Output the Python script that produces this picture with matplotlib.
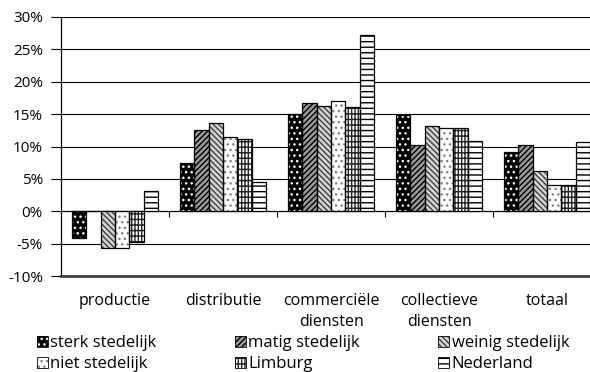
import matplotlib
matplotlib.use("Agg")
import matplotlib.pyplot as plt
import numpy as np
from matplotlib.patches import Patch
from matplotlib.ticker import FuncFormatter

plt.rcParams['font.family'] = ['Open Sans', 'DejaVu Sans']
plt.rcParams['hatch.linewidth'] = 1.0

# categories and series (percentages)
categories = ["productie", "distributie", "commerciële\ndiensten", "collectieve\ndiensten", "totaal"]
series_names = ["sterk stedelijk", "matig stedelijk", "weinig stedelijk",
                "niet stedelijk", "Limburg", "Nederland"]
sterk = [-4.1, 7.5, 15.0, 14.8, 9.2]
matig = [0.0, 12.6, 16.7, 10.2, 10.3]
weinig = [-5.7, 13.7, 16.2, 13.2, 6.2]
niet = [-5.7, 11.5, 17.0, 12.9, 4.0]
limburg = [-4.7, 11.1, 16.1, 12.8, 4.0]
nederland = [3.2, 4.5, 27.2, 10.9, 10.7]
values = [sterk, matig, weinig, niet, limburg, nederland]

# face colour, hatch colour, hatch pattern per series
styles = [
    ("black", "white", "..."),
    ("#9a9a9a", "black", "//////"),
    ("#d4d4d4", "#404040", "\\\\\\\\\\\\"),
    ("white", "#808080", "..."),
    ("white", "#222222", "|||||---"),
    ("white", "black", "---"),
]

fig = plt.figure(figsize=(5.9, 3.72), dpi=100)
ax = fig.add_axes([61 / 590, 96 / 372, 540 / 590, 259 / 372])

x = np.arange(len(categories))
w = 1 / 7.5
handles = []
for i, (vals, (face, hcol, hatch)) in enumerate(zip(values, styles)):
    pos = x - 2.5 * w + i * w
    ax.bar(pos, vals, w, color=face, edgecolor=hcol, hatch=hatch, linewidth=0, zorder=3)
    ax.bar(pos, vals, w, fill=False, edgecolor="black", linewidth=0.9, zorder=4)
    handles.append((Patch(facecolor=face, edgecolor=hcol, hatch=hatch, linewidth=0),
                    Patch(fill=False, edgecolor="black", linewidth=0.6)))

ax.set_xlim(-0.5, 4.5)
ax.set_ylim(-10, 30)
ax.set_yticks(np.arange(-10, 31, 5))
ax.yaxis.set_major_formatter(FuncFormatter(lambda v, p: f"{v:.0f}%"))
ax.grid(axis="y", color="black", linewidth=0.8, zorder=1)
ax.tick_params(axis="y", length=7, width=0.8, labelsize=11, pad=6)

ax.set_xticks(x)
ax.set_xticklabels(categories, fontsize=11.5, linespacing=1.35)
ax.tick_params(axis="x", length=0, pad=12.5)

for s in ["top", "right"]:
    ax.spines[s].set_visible(False)
ax.spines["left"].set_linewidth(0.9)
ax.spines["bottom"].set_linewidth(2)
ax.spines["bottom"].set_color("#404040")

# category axis crossing at 0 with tick marks between groups
sec = ax.secondary_xaxis(0.25)
sec.set_xticks(x[:-1] + 0.5)
sec.set_xticklabels([])
sec.tick_params(length=4, width=0.8, direction="out")
sec.spines["bottom"].set_linewidth(0.8)

order = [0, 3, 1, 4, 2, 5]
fig.legend([handles[i] for i in order], [series_names[i] for i in order],
           ncol=3, loc="upper left", bbox_to_anchor=(37 / 590, 1 - 335 / 372),
           frameon=False, fontsize=12, handlelength=0.65, handleheight=0.65,
           handletextpad=0.15, columnspacing=4.7, labelspacing=0.3, borderaxespad=0,
           borderpad=0)

fig.savefig("out.png", dpi=100)
